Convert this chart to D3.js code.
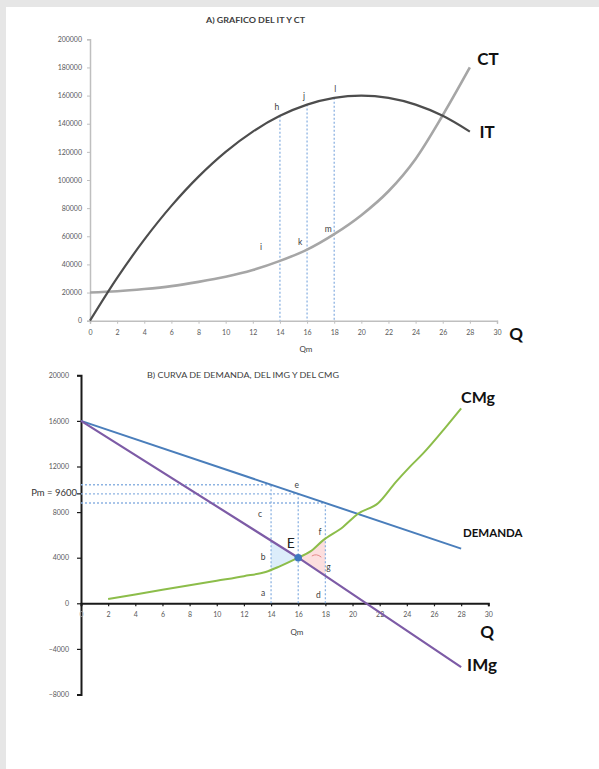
<!DOCTYPE html>
<html>
<head>
<meta charset="utf-8">
<script src="https://cdn.jsdelivr.net/npm/d3@7"></script>
<style>
  html, body { margin: 0; padding: 0; background: #e6e6e6; }
  svg { display: block; }
  text { font-family: Lato, "Open Sans", sans-serif; }
</style>
</head>
<body>
<svg id="chart" width="599" height="769"></svg>
<script>
// ---- Panel A: ingreso total (IT) y costo total (CT) ----
const qGrid = [0, 2, 4, 6, 8, 10, 12, 14, 16, 18, 20, 22, 24, 26, 28];
const itValues = [0, 30400, 57600, 81600, 102400, 120000, 134400, 145600, 153600, 158400, 160000, 158400, 153600, 145600, 134400];
const ctValues = [20000, 20900, 22500, 24600, 27600, 31200, 36000, 42500, 50500, 61500, 75000, 92000, 115000, 146000, 180000];
const topYTicks = [0, 20000, 40000, 60000, 80000, 100000, 120000, 140000, 160000, 180000, 200000];
const xTicks = [0, 2, 4, 6, 8, 10, 12, 14, 16, 18, 20, 22, 24, 26, 28, 30];
const markQ = [14, 16, 18];
const itMarkLabels = ["h", "j", "l"];
const ctMarkLabels = ["i", "k", "m"];

// ---- Panel B: demanda, IMg y CMg ----
const demandQ = [0, 28];
const demandP = [16000, 4800];
const imgQ = [0, 16, 28];
const imgValues = [16000, 4000, -5600];
const cmgQ = [2, 4, 6, 8, 10, 12, 13.6, 14.6, 16, 16.9, 17.8, 19.3, 20.4, 21.9, 23.2, 24.2, 25.2, 26.9, 28];
const cmgValues = [380, 780, 1180, 1580, 1980, 2380, 2750, 3220, 4000, 4550, 5500, 6700, 7850, 8800, 10650, 11950, 13150, 15500, 17100];
const bottomYTicks = [-8000, -4000, 0, 4000, 8000, 12000, 16000, 20000];
const pm = 9600;
const qm = 16;
const pAt = [10400, 9600, 8800];       // demand price at Q = 14, 16, 18

const svg = d3.select("#chart");

// page background: gray margin with a white sheet
svg.append("rect").attr("width", 599).attr("height", 769).attr("fill", "#e6e6e6");
svg.append("rect").attr("x", 6).attr("y", 7).attr("width", 593).attr("height", 762).attr("fill", "#ffffff");

const dotted = { stroke: "#8db3e2", width: 1.3, dash: "2,2" };
const tickFill = "#595959";

// ================= Panel A =================
const xT = d3.scaleLinear().domain([0, 30]).range([90, 497]);
const yT = d3.scaleLinear().domain([0, 200000]).range([320.7, 39.3]);
const gA = svg.append("g");

gA.append("text").attr("x", 206).attr("y", 23)
  .attr("font-size", 7.5).attr("font-weight", "bold").attr("fill", "#404040")
  .attr("textLength", 99).attr("lengthAdjust", "spacingAndGlyphs")
  .text("A) GRAFICO DEL  IT Y CT");

// axes
const axAY = gA.append("g").attr("transform", `translate(${xT(0)},0)`)
  .call(d3.axisLeft(yT).tickValues(topYTicks).tickSize(3).tickPadding(5).tickFormat(d3.format("d")));
const axAX = gA.append("g").attr("transform", `translate(0,${yT(0)})`)
  .call(d3.axisBottom(xT).tickValues(xTicks).tickSize(3).tickPadding(6).tickFormat(d3.format("d")));
[axAY, axAX].forEach(a => {
  a.select(".domain").attr("stroke", "#bfbfbf").attr("stroke-width", 1.5);
  a.selectAll(".tick line").attr("stroke", "#bfbfbf");
  a.selectAll(".tick text").attr("font-size", 7).attr("fill", tickFill).attr("font-family", "Lato, sans-serif");
});

// dotted verticals from IT down to the axis
markQ.forEach(q => {
  const i = qGrid.indexOf(q);
  gA.append("line")
    .attr("x1", xT(q)).attr("x2", xT(q)).attr("y1", yT(itValues[i])).attr("y2", yT(0))
    .attr("stroke", dotted.stroke).attr("stroke-width", dotted.width).attr("stroke-dasharray", dotted.dash);
});

const lineA = (vals) => d3.line().x((d, i) => xT(qGrid[i])).y(d => yT(d)).curve(d3.curveMonotoneX)(vals);
gA.append("path").attr("d", lineA(ctValues)).attr("fill", "none").attr("stroke", "#a6a6a6").attr("stroke-width", 2.6);
gA.append("path").attr("d", d3.line().x((d, i) => xT(qGrid[i])).y(d => yT(d)).curve(d3.curveCatmullRom)(itValues))
  .attr("fill", "none").attr("stroke", "#4d4d4d").attr("stroke-width", 2.2);

// point letters
const itOff = [[-3, -8], [-3, -8], [1, -8]];
const ctOff = [[-19, -13], [-7, -7], [-6, -4]];
markQ.forEach((q, k) => {
  const i = qGrid.indexOf(q);
  gA.append("text").attr("x", xT(q) + itOff[k][0]).attr("y", yT(itValues[i]) + itOff[k][1])
    .attr("font-size", 8.5).attr("fill", "#404040").attr("text-anchor", "middle").attr("dominant-baseline", "middle")
    .text(itMarkLabels[k]);
  gA.append("text").attr("x", xT(q) + ctOff[k][0]).attr("y", yT(ctValues[i]) + ctOff[k][1])
    .attr("font-size", 8.5).attr("fill", "#404040").attr("text-anchor", "middle").attr("dominant-baseline", "middle")
    .text(ctMarkLabels[k]);
});

gA.append("text").attr("x", 488).attr("y", 61).attr("font-size", 17).attr("font-weight", "bold")
  .attr("text-anchor", "middle").attr("dominant-baseline", "middle").attr("fill", "#111").text("CT");
gA.append("text").attr("x", 487).attr("y", 134).attr("font-size", 17).attr("font-weight", "bold")
  .attr("text-anchor", "middle").attr("dominant-baseline", "middle").attr("fill", "#111").text("IT");
gA.append("text").attr("x", 516).attr("y", 336).attr("font-size", 17).attr("font-weight", "bold")
  .attr("text-anchor", "middle").attr("dominant-baseline", "middle").attr("fill", "#111").text("Q");
gA.append("text").attr("x", 306).attr("y", 350).attr("font-size", 8).attr("fill", "#404040")
  .attr("text-anchor", "middle").attr("dominant-baseline", "middle").text("Qm");

// ================= Panel B =================
const xB = d3.scaleLinear().domain([0, 30]).range([81, 488.3]);
const yB = d3.scaleLinear().domain([-8000, 20000]).range([694.5, 375.3]);
const gB = svg.append("g");

gB.append("text").attr("x", 147).attr("y", 378)
  .attr("font-size", 7.5).attr("fill", "#404040")
  .attr("textLength", 192).attr("lengthAdjust", "spacingAndGlyphs")
  .text("B) CURVA DE DEMANDA, DEL IMG Y DEL CMG");

// interpolation helpers on the drawn polylines
const interp = (qs, vs) => (q) => {
  for (let i = 0; i < qs.length - 1; i++) {
    if (q >= qs[i] && q <= qs[i + 1]) {
      const t = (q - qs[i]) / (qs[i + 1] - qs[i]);
      return vs[i] + t * (vs[i + 1] - vs[i]);
    }
  }
  return vs[vs.length - 1];
};
const imgAt = interp(imgQ, imgValues);
const cmgAt = interp(cmgQ, cmgValues);

// shaded triangles between IMg and CMg
const blueArea = [[14, imgAt(14)], [qm, cmgAt(qm)]];
cmgQ.filter(q => q > 14 && q < qm).reverse().forEach(q => blueArea.push([q, cmgAt(q)]));
blueArea.push([14, cmgAt(14)]);
gB.append("path")
  .attr("d", d3.line().x(d => xB(d[0])).y(d => yB(d[1]))(blueArea) + "Z")
  .attr("fill", "#dcedfb").attr("stroke", "none");

const pinkArea = [[qm, cmgAt(qm)]];
cmgQ.filter(q => q > qm && q < 18).forEach(q => pinkArea.push([q, cmgAt(q)]));
pinkArea.push([18, cmgAt(18)], [18, imgAt(18)]);
gB.append("path")
  .attr("d", d3.line().x(d => xB(d[0])).y(d => yB(d[1]))(pinkArea) + "Z")
  .attr("fill", "#fcdede").attr("stroke", "none");
// small stroke inside the pink area
gB.append("path")
  .attr("d", `M${xB(17.0)},${yB(4150)} Q${xB(17.35)},${yB(4400)} ${xB(17.7)},${yB(4050)}`)
  .attr("fill", "none").attr("stroke", "#e58a8a").attr("stroke-width", 1);

// axes
const axBY = gB.append("g").attr("transform", `translate(${xB(0)},0)`)
  .call(d3.axisLeft(yB).tickValues(bottomYTicks).tickSize(4).tickPadding(8).tickFormat(d3.format("d")));
const axBX = gB.append("g").attr("transform", `translate(0,${yB(0)})`)
  .call(d3.axisBottom(xB).tickValues(xTicks).tickSize(3).tickPadding(6).tickFormat(d3.format("d")));
[axBY, axBX].forEach(a => {
  a.select(".domain").attr("stroke", "#1a1a1a").attr("stroke-width", 2);
  a.selectAll(".tick line").attr("stroke", "#1a1a1a").attr("stroke-width", 1.2);
  a.selectAll(".tick text").attr("font-size", 7).attr("fill", tickFill).attr("font-family", "Lato, sans-serif");
});
axBX.selectAll(".tick").filter(d => d === 0).select("text").attr("fill", "#aaaaaa");
gB.append("line").attr("x1", xB(0) - 4).attr("x2", xB(0)).attr("y1", yB(pm)).attr("y2", yB(pm))
  .attr("stroke", "#1a1a1a").attr("stroke-width", 1.2);
gB.append("text").attr("x", 77).attr("y", yB(pm)).attr("font-size", 9.5).attr("fill", "#333")
  .attr("text-anchor", "end").attr("dominant-baseline", "middle").text("Pm = " + pm);

// dotted guides: verticals from 0 to demand, horizontals from the axis
markQ.forEach((q, k) => {
  gB.append("line").attr("x1", xB(q)).attr("x2", xB(q)).attr("y1", yB(0)).attr("y2", yB(pAt[k]))
    .attr("stroke", dotted.stroke).attr("stroke-width", dotted.width).attr("stroke-dasharray", dotted.dash);
  gB.append("line").attr("x1", xB(0)).attr("x2", xB(q)).attr("y1", yB(pAt[k])).attr("y2", yB(pAt[k]))
    .attr("stroke", dotted.stroke).attr("stroke-width", dotted.width).attr("stroke-dasharray", dotted.dash);
});

const lineB = (qs, vs, curve) => d3.line().x((d, i) => xB(qs[i])).y(d => yB(d)).curve(curve)(vs);
gB.append("path").attr("d", lineB(demandQ, demandP, d3.curveLinear))
  .attr("fill", "none").attr("stroke", "#4a7ebb").attr("stroke-width", 2);
gB.append("path").attr("d", lineB(cmgQ, cmgValues, d3.curveMonotoneX))
  .attr("fill", "none").attr("stroke", "#8cbd4a").attr("stroke-width", 2);
gB.append("path").attr("d", lineB(imgQ, imgValues, d3.curveLinear))
  .attr("fill", "none").attr("stroke", "#7d5ba6").attr("stroke-width", 2.2);

// equilibrium point
gB.append("circle").attr("cx", xB(qm)).attr("cy", yB(4000)).attr("r", 3.8).attr("fill", "#3f78c0");

// point letters
const bLabels = [
  { t: "c", q: 14, v: 7800, dx: -11 },
  { t: "b", q: 14, v: 4000, dx: -8 },
  { t: "a", q: 14, v: 800, dx: -8 },
  { t: "e", q: 16, v: 10300, dx: -1.5 },
  { t: "f", q: 18, v: 6200, dx: -5.5 },
  { t: "g", q: 18, v: 3070, dx: 3 },
  { t: "d", q: 18, v: 640, dx: -7 }
];
bLabels.forEach(l => {
  gB.append("text").attr("x", xB(l.q) + l.dx).attr("y", yB(l.v))
    .attr("font-size", 8.5).attr("fill", "#404040").attr("text-anchor", "middle").attr("dominant-baseline", "middle")
    .text(l.t);
});
gB.append("text").attr("x", xB(qm) - 7.5).attr("y", yB(4000) - 13).attr("font-size", 14).attr("fill", "#222")
  .attr("text-anchor", "middle").attr("dominant-baseline", "middle").text("E");

gB.append("text").attr("x", 478).attr("y", 399).attr("font-size", 16).attr("font-weight", "bold")
  .attr("text-anchor", "middle").attr("dominant-baseline", "middle").attr("fill", "#111").text("CMg");
gB.append("text").attr("x", 463).attr("y", 534).attr("font-size", 11.5).attr("font-weight", "bold")
  .attr("dominant-baseline", "middle").attr("fill", "#111").text("DEMANDA");
gB.append("text").attr("x", 487).attr("y", 634).attr("font-size", 17).attr("font-weight", "bold")
  .attr("text-anchor", "middle").attr("dominant-baseline", "middle").attr("fill", "#111").text("Q");
gB.append("text").attr("x", 482).attr("y", 667).attr("font-size", 17).attr("font-weight", "bold")
  .attr("text-anchor", "middle").attr("dominant-baseline", "middle").attr("fill", "#111").text("IMg");
gB.append("text").attr("x", 297).attr("y", 633).attr("font-size", 8).attr("fill", "#404040")
  .attr("text-anchor", "middle").attr("dominant-baseline", "middle").text("Qm");
</script>
</body>
</html>
